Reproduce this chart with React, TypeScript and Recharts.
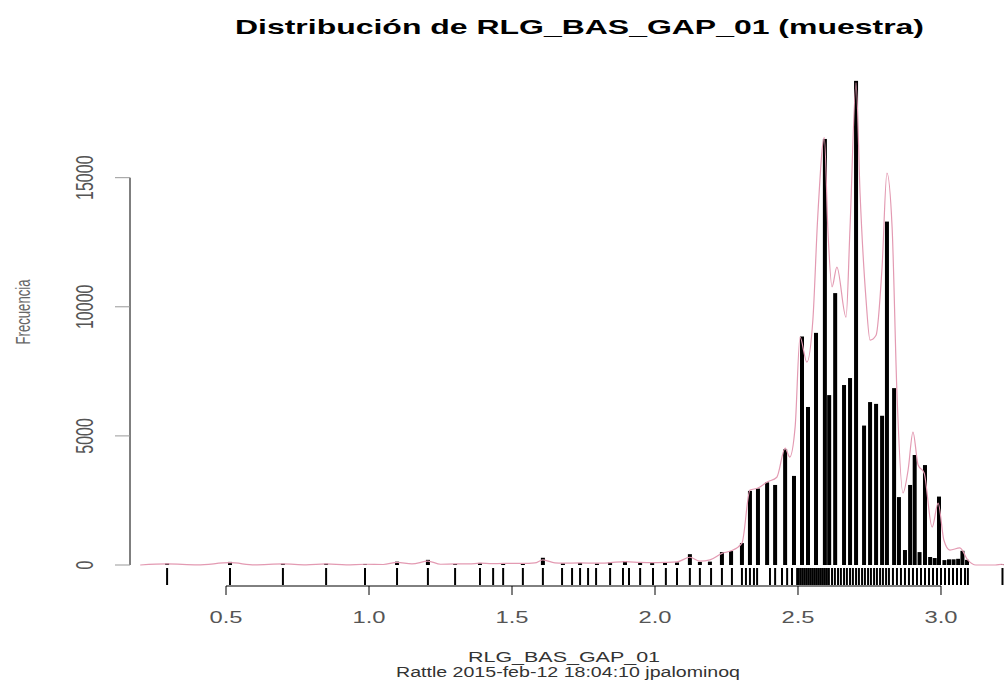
import React from 'react';
import { ComposedChart, Bar, Line, Scatter, XAxis, YAxis, ReferenceLine } from 'recharts';

// histogram bins (value of RLG_BAS_GAP_01, count)
const binCenters = [
  0.294, 0.514, 0.699, 0.85, 0.986, 1.098, 1.206, 1.301, 1.388, 1.469, 1.538, 1.608, 1.678, 1.738,
  1.797, 1.843, 1.895, 1.948, 1.99, 2.035, 2.077, 2.122, 2.157, 2.192, 2.234, 2.266, 2.304,
  2.332, 2.36, 2.392, 2.42, 2.455, 2.486, 2.514, 2.535, 2.563, 2.594, 2.609, 2.63, 2.661, 2.682,
  2.703, 2.731, 2.752, 2.773, 2.794, 2.811, 2.836, 2.853, 2.874, 2.892, 2.908, 2.925, 2.944,
  2.962, 2.978, 2.993, 3.012, 3.028, 3.044, 3.06, 3.075, 3.091, 3.213,
];
const binCounts = [
  60, 120, 50, 50, 40, 130, 200, 40, 80, 60, 60, 280, 70, 80,
  60, 100, 150, 110, 90, 100, 100, 420, 120, 130, 500, 540, 850,
  2870, 2960, 3200, 3100, 4480, 3450, 8850, 6120, 8990, 16500, 6580, 10530, 6970, 7240,
  18750, 5400, 6310, 6240, 5780, 13300, 6850, 2630, 580, 3100, 4260, 500, 3870,
  310, 270, 2650, 190, 220, 220, 240, 550, 200, 30,
];

// density curve, scaled to counts
const densityX = [
  0.2, 0.294, 0.4, 0.514, 0.6, 0.699, 0.78, 0.85, 0.92, 0.986, 1.05, 1.098, 1.15, 1.206, 1.25,
  1.301, 1.35, 1.388, 1.43, 1.469, 1.538, 1.58, 1.608, 1.65, 1.678, 1.738, 1.797, 1.843, 1.895,
  1.948, 1.99, 2.035, 2.077, 2.122, 2.157, 2.192, 2.234, 2.266, 2.304, 2.332, 2.36, 2.392, 2.426,
  2.455, 2.471, 2.49, 2.507, 2.531, 2.552, 2.569, 2.592, 2.605, 2.619, 2.636, 2.668, 2.682, 2.703,
  2.717, 2.738, 2.752, 2.773, 2.794, 2.811, 2.829, 2.846, 2.867, 2.885, 2.902, 2.92, 2.941, 2.969,
  2.99, 3.01, 3.031, 3.066, 3.094, 3.122, 3.19, 3.213, 3.22,
];
const densityY = [
  0, 40, 5, 90, 5, 40, 5, 40, 5, 30, 20, 100, 40, 150, 30,
  40, 40, 70, 50, 60, 60, 80, 200, 80, 70, 80, 70, 90, 130,
  100, 90, 100, 120, 300, 150, 200, 450, 550, 850, 2900, 2980, 3215, 3400,
  4530, 4180, 5350, 8830, 7860, 9490, 13480, 16550, 12860, 10770, 11540, 9600, 13090, 18670,
  14400, 10260, 8710, 8900, 11540, 15180, 13090, 6660, 2790, 3680, 5150, 3870, 3560, 1470,
  2400, 970, 580, 660, 190, 0, 0, 30, 0,
];

// rug of sample values
const rugValues = [
  0.294, 0.514, 0.699, 0.85, 0.986, 1.098, 1.206, 1.301, 1.388, 1.434, 1.469, 1.538, 1.608, 1.675,
  1.71, 1.738, 1.766, 1.794, 1.843, 1.888, 1.909, 1.948, 1.993, 2.038, 2.077, 2.122, 2.157, 2.196,
  2.234, 2.269, 2.304, 2.318, 2.332, 2.346, 2.357, 2.402, 2.42, 2.444, 2.462, 2.479, 2.497, 2.503,
  2.51, 2.517, 2.524, 2.531, 2.538, 2.545, 2.552, 2.559, 2.566, 2.573, 2.58, 2.587, 2.594, 2.601,
  2.608, 2.619, 2.629, 2.64, 2.65, 2.661, 2.671, 2.682, 2.692, 2.703, 2.713, 2.724, 2.734, 2.745,
  2.755, 2.766, 2.776, 2.787, 2.797, 2.808, 2.818, 2.832, 2.846, 2.86, 2.874, 2.888, 2.902, 2.916,
  2.93, 2.944, 2.958, 2.972, 2.986, 3.0, 3.014, 3.028, 3.042, 3.056, 3.07, 3.084, 3.094, 3.215,
];

const xTicks = [0.5, 1.0, 1.5, 2.0, 2.5, 3.0];
const yTicks = [0, 5000, 10000, 15000];

const X_MIN = 0.1643;
const X_MAX = 3.2203;
const Y_MIN = -813;
const Y_MAX = 19000;
const RUG_Y = -116;
const BAR_W = 4;

const FONT = '"Liberation Sans", Arial, sans-serif';

const bins = binCenters.map((x, i) => ({ x, y: binCounts[i] }));
const density = densityX.map((x, i) => ({ x, y: densityY[i] }));
const rug = rugValues.map((x) => ({ x, y: RUG_Y }));

const XTick = ({ x, y, payload }: any) => (
  <text x={x} y={y + 26} textAnchor="middle" fontSize={16} fill="#555" fontFamily={FONT}
    textLength={33} lengthAdjust="spacingAndGlyphs">
    {Number(payload.value).toFixed(1)}
  </text>
);

const YTick = ({ x, y, payload }: any) => (
  <g transform={`translate(${x - 20},${y}) rotate(-90) scale(1,1.55)`}>
    <text x={0} y={0} textAnchor="middle" fontSize={16} fill="#555" fontFamily={FONT}>
      {payload.value}
    </text>
  </g>
);

// keep each bar a fixed width, centred on its bin value
const HistBar = ({ x, y, width, height }: any) => {
  const cx = x + width / 2;
  return <rect x={cx - BAR_W / 2} y={y} width={BAR_W} height={Math.max(height, 0.6)} fill="#000" />;
};

const RugTick = ({ cx, cy }: any) => (
  <line x1={cx} x2={cx} y1={cy} y2={cy + 17} stroke="#000" strokeWidth={2} />
);

const App: React.FC = () => {
  return (
    <div style={{ position: 'relative', width: 1004, height: 688, background: '#fff' }}>
      <style>{'body{margin:0}'}</style>
      <ComposedChart width={1004} height={688} data={bins}
        margin={{ top: 74.4, right: 0, bottom: 62, left: 70 }}>
        <XAxis type="number" dataKey="x" domain={[X_MIN, X_MAX]} allowDataOverflow ticks={xTicks}
          interval={0} axisLine={false} tickSize={9} tickLine={{ stroke: '#000' }} tick={<XTick />} height={40} />
        <YAxis type="number" dataKey="y" domain={[Y_MIN, Y_MAX]} allowDataOverflow ticks={yTicks}
          interval={0} axisLine={false} tickSize={15} tickLine={{ stroke: '#999' }} tick={<YTick />} width={60} />
        <Bar dataKey="y" fill="#000" shape={<HistBar />} isAnimationActive={false} />
        <Line data={density} dataKey="y" type="monotone" stroke="#e39ab2" strokeWidth={1.2}
          dot={false} isAnimationActive={false} />
        <Scatter data={rug} dataKey="y" shape={<RugTick />} isAnimationActive={false} />
        <ReferenceLine segment={[{ x: 0.5, y: Y_MIN }, { x: 3.0, y: Y_MIN }]} stroke="#000" ifOverflow="visible" />
        <ReferenceLine segment={[{ x: X_MIN, y: 0 }, { x: X_MIN, y: 15000 }]} stroke="#000" ifOverflow="visible" />
      </ComposedChart>
      <svg width={1004} height={688} style={{ position: 'absolute', left: 0, top: 0, pointerEvents: 'none' }}>
        <text x={579.5} y={34} textAnchor="middle" fontWeight="bold" fontSize={21} fontFamily={FONT}
          textLength={689} lengthAdjust="spacingAndGlyphs" fill="#000">
          Distribución de RLG_BAS_GAP_01 (muestra)
        </text>
        <text x={564} y={662} textAnchor="middle" fontSize={14} fontFamily={FONT} fill="#333"
          textLength={192} lengthAdjust="spacingAndGlyphs">
          RLG_BAS_GAP_01
        </text>
        <text x={568} y={677} textAnchor="middle" fontSize={14} fontFamily={FONT} fill="#333"
          textLength={344} lengthAdjust="spacingAndGlyphs">
          Rattle 2015-feb-12 18:04:10 jpalominoq
        </text>
        <g transform="translate(30,312) rotate(-90) scale(1,1.5)">
          <text x={0} y={0} textAnchor="middle" fontSize={14} fontFamily={FONT} fill="#666"
            textLength={65} lengthAdjust="spacingAndGlyphs">
            Frecuencia
          </text>
        </g>
      </svg>
    </div>
  );
};

export default App;
